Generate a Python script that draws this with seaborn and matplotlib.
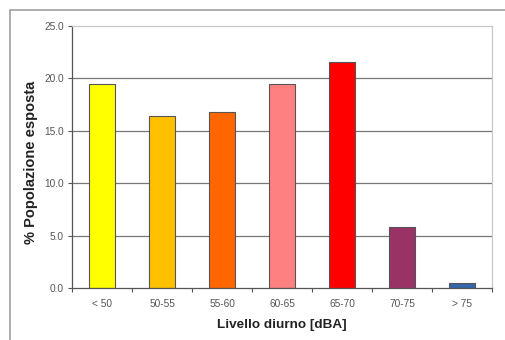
import matplotlib
matplotlib.use("Agg")
import matplotlib.pyplot as plt
from matplotlib.lines import Line2D
import seaborn as sns
import pandas as pd

# Daytime noise level classes and share of exposed population
categories = ["< 50", "50-55", "55-60", "60-65", "65-70", "70-75", "> 75"]
values = [19.5, 16.4, 16.8, 19.5, 21.6, 5.8, 0.5]
colors = ["#FFFF00", "#FFC000", "#FF6600", "#FF8080", "#FF0000", "#993366", "#3366AA"]
yticks = [0.0, 5.0, 10.0, 15.0, 20.0, 25.0]

df = pd.DataFrame({"livello": categories, "perc": values})

sns.set_theme(style="white")
plt.rcParams["font.family"] = ["Liberation Sans", "DejaVu Sans"]

fig = plt.figure(figsize=(5.05, 3.40), dpi=100)
W, H = 505, 340
ax = fig.add_axes([72 / W, 1 - 288 / H, (492 - 72) / W, (288 - 26) / H])

sns.barplot(data=df, x="livello", y="perc", hue="livello", palette=colors,
            legend=False, width=0.42, edgecolor="#555555", linewidth=0.8,
            saturation=1, ax=ax)

ax.set_ylim(0, 25)
ax.set_xlim(-0.5, len(categories) - 0.5)
ax.set_yticks(yticks)
ax.set_yticklabels([f"{t:.1f}" for t in yticks], fontsize=7.3, color="#555555")
ax.tick_params(axis="x", labelsize=7.3, labelcolor="#555555", length=0, pad=8)
ax.tick_params(axis="y", length=3, width=0.8, color="#555555", direction="out", pad=3, left=True)

# gridlines at each major tick except the top
for t in yticks[1:-1]:
    ax.axhline(t, color="#777777", linewidth=0.9, zorder=0)

# minor ticks between categories on the category axis
ax.set_xticks([i + 0.5 for i in range(-1, len(categories))], minor=True)
ax.tick_params(axis="x", which="minor", bottom=True, length=3, width=0.8, color="#555555")

for side in ["top", "right"]:
    ax.spines[side].set_visible(True)
    ax.spines[side].set_color("#c8c8c8")
    ax.spines[side].set_linewidth(0.9)
for side in ["left", "bottom"]:
    ax.spines[side].set_color("#555555")
    ax.spines[side].set_linewidth(0.9)

ax.set_xlabel("Livello diurno [dBA]", fontsize=9.7, fontweight="bold", color="#222222", labelpad=7)
ax.set_ylabel("% Popolazione esposta", fontsize=10.5, fontweight="bold", color="#222222", labelpad=6)
ax.yaxis.set_label_coords(-0.08, 0.48)

# outer chart frame
fig.add_artist(Line2D([10 / W, 10 / W], [0, 1 - 10 / H], transform=fig.transFigure,
                      color="#a0a0a0", linewidth=1.2))
fig.add_artist(Line2D([10 / W, 1], [1 - 10 / H, 1 - 10 / H], transform=fig.transFigure,
                      color="#a0a0a0", linewidth=1.2))

fig.savefig("out.png", dpi=100)
